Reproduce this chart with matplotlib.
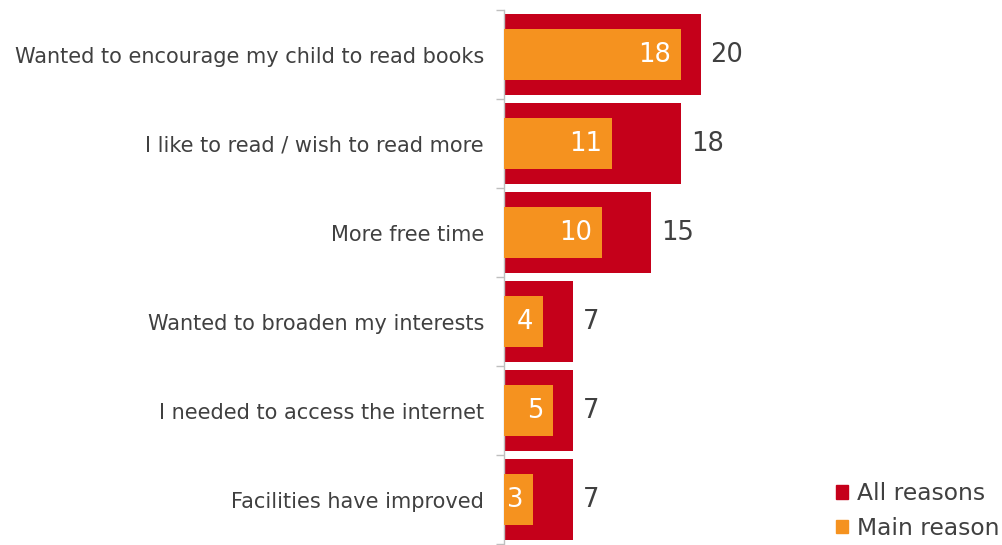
import matplotlib
matplotlib.use("Agg")
import matplotlib.pyplot as plt
from matplotlib.patches import Patch
import numpy as np

categories = [
    "Wanted to encourage my child to read books",
    "I like to read / wish to read more",
    "More free time",
    "Wanted to broaden my interests",
    "I needed to access the internet",
    "Facilities have improved",
]
all_reasons = [20, 18, 15, 7, 7, 7]
main_reason = [18, 11, 10, 4, 5, 3]

RED = "#C5001A"
ORANGE = "#F5921F"
TEXT = "#404040"
AXIS = "#BFBFBF"

plt.rcParams["font.family"] = ["DejaVu Sans"]

fig = plt.figure(figsize=(10.03, 5.45), dpi=100)
W, H = 1003, 545
left, right, top, bottom = 504, 1000, 10, 544
ax = fig.add_axes([left / W, 1 - bottom / H, (right - left) / W, (bottom - top) / H])

n = len(categories)
y = np.arange(n)
ax.barh(y, all_reasons, height=0.9, color=RED, zorder=2)
ax.barh(y, main_reason, height=0.57, color=ORANGE, zorder=3)

ax.set_ylim(n - 0.5, -0.5)
xmax = (right - left) / 9.83
ax.set_xlim(0, xmax)

px = xmax / (right - left)  # data units per pixel
for yi, a, m in zip(y, all_reasons, main_reason):
    ax.text(a + 10 * px, yi, str(a), va="center", ha="left",
            fontsize=18.5, color=TEXT, zorder=4)
    ax.text(m - 10 * px, yi, str(m), va="center", ha="right",
            fontsize=18.5, color="white", zorder=4)

# category labels centred on bars, ticks on category boundaries
ax.set_yticks(y)
ax.set_yticklabels(categories, fontsize=15, color=TEXT)
ax.tick_params(axis="y", which="major", length=0, pad=14.4)
ax.set_yticks(np.arange(-0.5, n), minor=True)
ax.tick_params(axis="y", which="minor", length=6, width=1, color=AXIS)
ax.set_xticks([])

for s in ["top", "right", "bottom"]:
    ax.spines[s].set_visible(False)
ax.spines["left"].set_color(AXIS)
ax.spines["left"].set_linewidth(1)

handles = [Patch(color=RED, label="All reasons"),
           Patch(color=ORANGE, label="Main reason")]
fig.legend(handles=handles, loc="lower left",
           bbox_to_anchor=(827 / W, -0.008), frameon=False,
           fontsize=16.8, labelcolor=TEXT, handlelength=0.5, handleheight=0.5,
           handletextpad=0.4, labelspacing=0.5, borderaxespad=0)

fig.savefig("out.png", dpi=100)
